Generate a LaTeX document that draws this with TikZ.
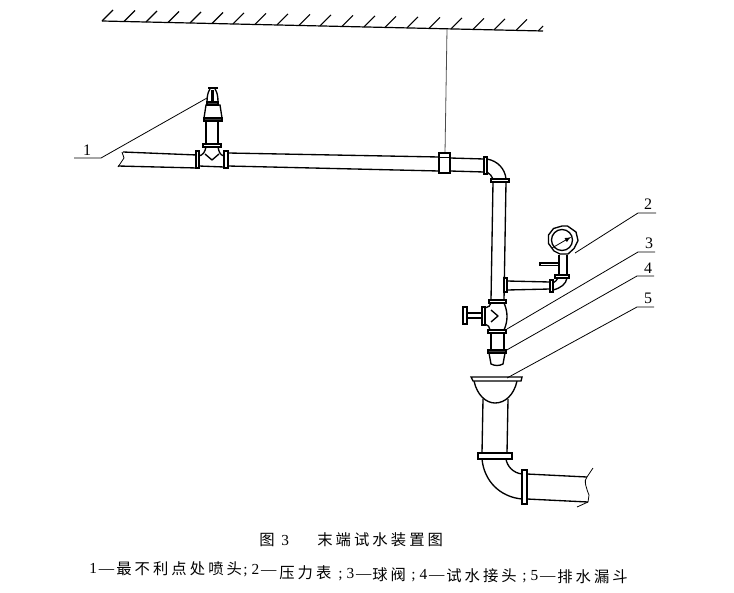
\documentclass[tikz,border=0pt]{standalone}
\usepackage{fontspec}
\setmainfont{Liberation Serif}
\newfontfamily\cjk[LetterSpace=20]{Noto Sans CJK SC}
\newcommand{\legendnum}[1]{;\hspace{3pt}#1\hspace{1.5pt}—}
\begin{document}
\begin{tikzpicture}[
        x=0.75pt,y=-0.75pt,
        %Environment styles
        PipeCfg/.style={line width=1pt,line join=round},
        ThinCfg/.style={line width=0.6pt},
        FlangeCfg/.style={line width=1pt,fill=white},
        DarkCfg/.style={line width=1pt,fill=black!75},
        LabelCfg/.style={font=\fontsize{12pt}{13pt}\selectfont,inner sep=0pt},
        TitleCfg/.style={font=\fontsize{11.5pt}{13pt}\selectfont,inner sep=0pt,anchor=west},
        LegendCfg/.style={font=\fontsize{11.5pt}{13pt}\selectfont,inner sep=0pt,anchor=west}
    ]
    \useasboundingbox (0,0) rectangle (734,592);

    %Ceiling
    \draw[line width=0.9pt] (102,21) -- (543,31);
    \foreach \xb in {102,124,146,168,190,212,233,255,277,299,320,342,364,385,407,429,451,473,494,516}
        \draw[line width=0.8pt] ({\xb},{21+(\xb-102)*0.0227}) -- ++(11,-11);
    \draw[line width=0.8pt] (538,31) -- ++(5,-5);
    \draw[ThinCfg,black!70] (447,29) -- (445,153);

    %Main run
    \draw[PipeCfg] (123,152) -- (197,155) (118,166) -- (197,168);
    \draw[PipeCfg] (228,153) -- (439,157) (228,166) -- (439,171);
    \draw[ThinCfg] (122,152) -- (124,158) -- (118,167);
    \draw[PipeCfg] (450,158) -- (484,159) (450,171) -- (484,172);
    \draw[FlangeCfg] (439,153) rectangle (450,173);
    \draw[ThinCfg] (439,157) -- (450,157);
    \draw[FlangeCfg] (484,157) rectangle (487,174);

    %Upper elbow and riser
    \draw[PipeCfg] (487,159) .. controls (498,161) and (505,169) .. (506,179);
    \draw[PipeCfg] (487,172) .. controls (490,174) and (492,176) .. (493,179);
    \draw[FlangeCfg] (491,179) rectangle (509,182);
    \draw[PipeCfg] (493,182) -- (491,300) (506,182) -- (504,300);

    %Sprinkler tee
    \draw[FlangeCfg] (196,151) rectangle (199,168);
    \draw[FlangeCfg] (224,151) rectangle (228,168);
    \draw[PipeCfg] (199,156) .. controls (203,155) and (205,152) .. (206,147);
    \draw[PipeCfg] (224,156) .. controls (220,155) and (219,152) .. (218,147);
    \draw[PipeCfg] (199,166) -- (224,167);
    \draw[PipeCfg] (205,154) -- (212,160) -- (219,154);
    \draw[FlangeCfg] (203,144) rectangle (221,147);
    \draw[PipeCfg] (206,121) -- (206,144) (218,121) -- (218,144);
    \draw[FlangeCfg] (204,118) -- (206,105) -- (220,105) -- (222,118) -- cycle;
    \draw[DarkCfg] (204,118) rectangle (222,121);
    \draw[DarkCfg] (207,102) rectangle (218,105);
    \draw[PipeCfg] (207,102) .. controls (207,96) and (208,92) .. (210,89);
    \draw[PipeCfg] (218,102) .. controls (218,96) and (217,92) .. (215,89);
    \draw[line width=1.6pt] (208,88) -- (218,88);
    \draw[line width=2pt] (212.5,90) -- (212.5,102);

    %Pressure gauge branch
    \draw[PipeCfg] (507,281) -- (550,282) (507,290) -- (550,289);
    \draw[FlangeCfg] (504,278) rectangle (507,292);
    \draw[FlangeCfg] (550,280) rectangle (553,292);
    \draw[PipeCfg] (553,290) .. controls (561,288) and (566,284) .. (567,278);
    \draw[PipeCfg] (553,283) .. controls (555,282) and (557,280) .. (558,278);
    \draw[FlangeCfg] (555,275) rectangle (569,278);
    \draw[PipeCfg] (559,275) -- (559,255) (567,275) -- (567,255);
    \draw[FlangeCfg] (540,263) rectangle (559,265.5);
    \draw[FlangeCfg] (562,226) -- ++(5.5,0) -- ++(8.5,6) -- ++(2,8.5) -- ++(-4,8) -- ++(-6,5.5) -- ++(-8,0) -- ++(-6,-3) -- ++(-5.5,-7.5) -- ++(0,-8.5) -- ++(5,-6.5) -- cycle;
    \draw[PipeCfg] (562,240) circle (10.5);
    \draw[ThinCfg,-latex] (552,248) -- (571,237);

    %Ball valve with wheel
    \draw[FlangeCfg] (489,300) rectangle (506,303);
    \draw[PipeCfg] (485,308) .. controls (488,307) and (491,306) .. (491,303);
    \draw[PipeCfg] (504,303) .. controls (508,312) and (508,321) .. (504,330);
    \draw[PipeCfg] (485,324) .. controls (488,325) and (490,327) .. (490,330);
    \draw[PipeCfg] (491,310) -- (498,316) -- (491,322);
    \draw[FlangeCfg] (482,307) rectangle (485,325);
    \draw[FlangeCfg] (467,313) rectangle (482,318);
    \draw[FlangeCfg] (463,307) rectangle (467,324);
    \draw[FlangeCfg] (488,330) rectangle (506,333);

    %Test connector
    \draw[PipeCfg] (491,333) -- (491,350) (504,333) -- (504,350);
    \draw[FlangeCfg] (489,353) -- (491,364) .. controls (495,366) and (499,366) .. (503,364) -- (505,353) -- cycle;
    \draw[DarkCfg] (488,350) rectangle (506,353);

    %Drain funnel and outlet
    \draw[PipeCfg] (474,381) .. controls (477,395) and (486,403) .. (495,403) .. controls (505,403) and (514,395) .. (517,381);
    \draw[FlangeCfg] (471,377) -- (522,377) -- (521,381) -- (473,381) -- cycle;
    \draw[PipeCfg] (483,399) -- (482,453) (508,399) -- (507,453);
    \draw[FlangeCfg] (478,453) rectangle (512,459);
    \draw[PipeCfg] (482,459) .. controls (484,481) and (500,497) .. (522,499);
    \draw[PipeCfg] (506,459) .. controls (507,466) and (513,473) .. (522,474);
    \draw[FlangeCfg] (522,470) rectangle (527,504);
    \draw[PipeCfg] (527,474) -- (587,477) (527,499) -- (588,502);
    \draw[ThinCfg] (593,468) -- (587,477) .. controls (583,480) and (587,490) .. (589,495) -- (588,502) -- (577,507);

    %Leader lines
    \node[LabelCfg] (lab1) at (87,150) {1};
    \node[LabelCfg] (lab2) at (648,204) {2};
    \node[LabelCfg] (lab3) at (649,243) {3};
    \node[LabelCfg] (lab4) at (648,268) {4};
    \node[LabelCfg] (lab5) at (648,298) {5};
    \draw[ThinCfg] (207,98) -- (101,158) -- (74,158);
    \draw[ThinCfg] (575,253) -- (638,213) -- (656,213);
    \draw[ThinCfg] (507,329) -- (638,252) -- (655,252);
    \draw[ThinCfg] (505,351) -- (637,276) -- (654,276);
    \draw[ThinCfg] (507,378) -- (637,307) -- (654,307);

    %Captions
    \node[TitleCfg] (fig) at (259,540) {\cjk 图};
    \node[TitleCfg] (fignum) at (281,540) {3};
    \node[TitleCfg] (title) at (317,540) {\cjk 末端试水装置图};
    \path
        (89,568) node[LegendCfg] (a1) {1\hspace{1.5pt}—}
        (116,569) node[LegendCfg] (a2) {\cjk 最不利点处喷头}
        (243,571) node[LegendCfg] (b1) {\legendnum{2}}
        (279,573) node[LegendCfg] (b2) {\cjk 压力表}
        (338,575) node[LegendCfg] (c1) {\legendnum{3}}
        (372,575) node[LegendCfg] (c2) {\cjk 球阀}
        (411,575.5) node[LegendCfg] (d1) {\legendnum{4}}
        (446,576) node[LegendCfg] (d2) {\cjk 试水接头}
        (522,576.5) node[LegendCfg] (e1) {\legendnum{5}}
        (557,577) node[LegendCfg] (e2) {\cjk 排水漏斗};
\end{tikzpicture}
\end{document}
